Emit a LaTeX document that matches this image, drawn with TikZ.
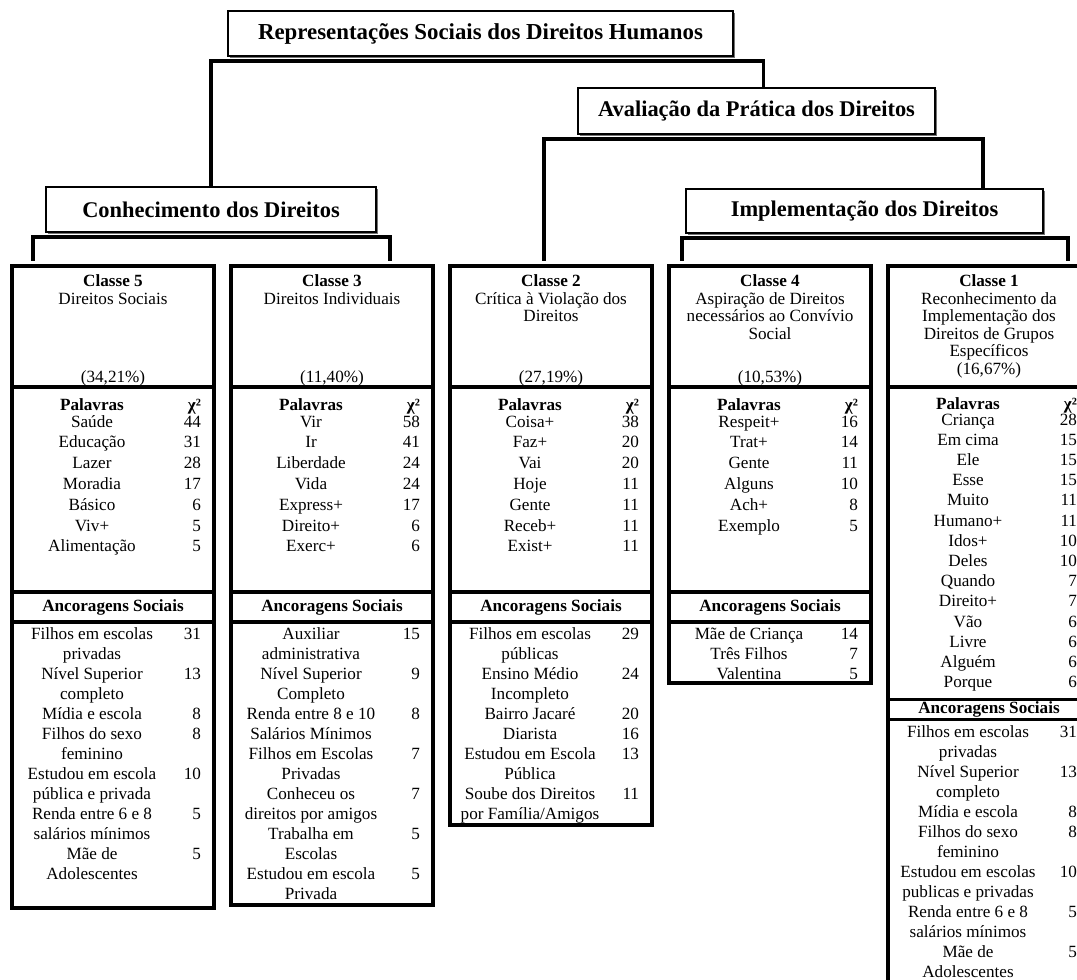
\documentclass[tikz,border=0pt]{standalone}
\usepackage{fontspec}
\setmainfont{Liberation Serif}
\usepackage{array}
\usetikzlibrary{positioning, calc, shadows}

% column types for the class tables
\newcolumntype{W}{>{\centering\arraybackslash}p{112pt}}
\newcolumntype{V}{>{\raggedleft\arraybackslash}p{20.3pt}}
\newcolumntype{H}{>{\centering\arraybackslash}p{141.4pt}}
\newcommand{\pairtab}[1]{\begin{tabular}[t]{@{}W@{}V@{\hspace{9.1pt}}}#1\end{tabular}}
\newcommand{\headtab}[1]{\begin{tabular}[t]{@{}H@{}}#1\end{tabular}}

\begin{document}
\begin{tikzpicture}[
    x=0.7pt, y=-0.7pt,
    font={\fontsize{12}{14}\selectfont},
    titlebox/.style={draw, line width=1pt, fill=white, anchor=north west, inner sep=0pt, outer sep=0pt,
        font={\fontsize{15.7}{18}\selectfont\bfseries},
        drop shadow={shadow xshift=1.2pt, shadow yshift=-1.2pt, fill=black!55, opacity=1}},
    sect/.style={draw, line width=2.3pt, anchor=north west, inner sep=0pt, outer sep=0pt, minimum width=141.4pt},
    clshead/.style={sect, text height=14.4pt, text depth=70.3pt,
        font={\fontsize{12}{14}\selectfont\renewcommand{\arraystretch}{0.875}}},
    palbox/.style={sect, text height=16.5pt, text depth=#1,
        font={\fontsize{12}{14}\selectfont\renewcommand{\arraystretch}{1.04}}},
    anchead/.style={sect, minimum height=#1, font={\fontsize{12}{14}\selectfont\bfseries}},
    anclist/.style={sect, text height=12.3pt, text depth=#1},
    pct/.style={anchor=base},
    link/.style={line width=2.3pt}
]
    \useasboundingbox (0,0) rectangle (1077,980);
    \clip (0,0) rectangle (1077,980);

    % Titles
    \node[titlebox, minimum width=353.5pt, minimum height=31.5pt,
          font={\fontsize{16}{18}\selectfont\bfseries}] (rep) at (228,11) {Representações Sociais dos Direitos Humanos};
    \node[titlebox, minimum width=249.9pt, minimum height=32.2pt] (aval) at (578,88) {Avaliação da Prática dos Direitos};
    \node[titlebox, minimum width=231pt, minimum height=31.5pt] (conh) at (46,187) {Conhecimento dos Direitos};
    \node[titlebox, minimum width=249.9pt, minimum height=30.8pt] (impl) at (686,189) {Implementação dos Direitos};

    % Classe 5
    \node[clshead] (cls5) at (12,266) {\headtab{\textbf{Classe 5}\\ Direitos Sociais}};
    \node[pct] (pct5) at ($(cls5.south)+(0,-5)$) {(34,21\%)};
    \node[palbox=127pt] (pal5) at (cls5.south west) {\pairtab{\textbf{Palavras} & \textbf{χ²}\\[-3pt]
        Saúde & 44\\ Educação & 31\\ Lazer & 28\\ Moradia & 17\\ Básico & 6\\ Viv+ & 5\\ Alimentação & 5}};
    \node[anchead=21pt] (anc5) at (pal5.south west) {Ancoragens Sociais};
    \node[anclist=187.9pt] (lst5) at (anc5.south west) {\pairtab{
        Filhos em escolas & 31\\ privadas & \\ Nível Superior & 13\\ completo & \\
        Mídia e escola & 8\\ Filhos do sexo & 8\\ feminino & \\ Estudou em escola & 10\\
        pública e privada & \\ Renda entre 6 e 8 & 5\\ salários mínimos & \\ Mãe de & 5\\ Adolescentes & }};

    % Classe 3
    \node[clshead] (cls3) at (231,266) {\headtab{\textbf{Classe 3}\\ Direitos Individuais}};
    \node[pct] (pct3) at ($(cls3.south)+(0,-5)$) {(11,40\%)};
    \node[palbox=127pt] (pal3) at (cls3.south west) {\pairtab{\textbf{Palavras} & \textbf{χ²}\\[-3pt]
        Vir & 58\\ Ir & 41\\ Liberdade & 24\\ Vida & 24\\ Express+ & 17\\ Direito+ & 6\\ Exerc+ & 6}};
    \node[anchead=21pt] (anc3) at (pal3.south west) {Ancoragens Sociais};
    \node[anclist=185.8pt] (lst3) at (anc3.south west) {\pairtab{
        Auxiliar & 15\\ administrativa & \\ Nível Superior & 9\\ Completo & \\
        Renda entre 8 e 10 & 8\\ Salários Mínimos & \\ Filhos em Escolas & 7\\ Privadas & \\
        Conheceu os & 7\\ direitos por amigos & \\ Trabalha em & 5\\ Escolas & \\
        Estudou em escola & 5\\ Privada & }};

    % Classe 2
    \node[clshead] (cls2) at (450,266) {\headtab{\textbf{Classe 2}\\ Crítica à Violação dos\\ Direitos}};
    \node[pct] (pct2) at ($(cls2.south)+(0,-5)$) {(27,19\%)};
    \node[palbox=127pt] (pal2) at (cls2.south west) {\pairtab{\textbf{Palavras} & \textbf{χ²}\\[-3pt]
        Coisa+ & 38\\ Faz+ & 20\\ Vai & 20\\ Hoje & 11\\ Gente & 11\\ Receb+ & 11\\ Exist+ & 11}};
    \node[anchead=21pt] (anc2) at (pal2.south west) {Ancoragens Sociais};
    \node[anclist=129.8pt] (lst2) at (anc2.south west) {\pairtab{
        Filhos em escolas & 29\\ públicas & \\ Ensino Médio & 24\\ Incompleto & \\
        Bairro Jacaré & 20\\ Diarista & 16\\ Estudou em Escola & 13\\ Pública & \\
        Soube dos Direitos & 11\\ por Família/Amigos & }};

    % Classe 4
    \node[clshead] (cls4) at (669,266) {\headtab{\textbf{Classe 4}\\ Aspiração de Direitos\\ necessários ao Convívio\\ Social}};
    \node[pct] (pct4) at ($(cls4.south)+(0,-5)$) {(10,53\%)};
    \node[palbox=127pt] (pal4) at (cls4.south west) {\pairtab{\textbf{Palavras} & \textbf{χ²}\\[-3pt]
        Respeit+ & 16\\ Trat+ & 14\\ Gente & 11\\ Alguns & 10\\ Ach+ & 8\\ Exemplo & 5}};
    \node[anchead=21pt] (anc4) at (pal4.south west) {Ancoragens Sociais};
    \node[anclist=30.4pt] (lst4) at (anc4.south west) {\pairtab{
        Mãe de Criança & 14\\ Três Filhos & 7\\ Valentina & 5}};

    % Classe 1
    \node[clshead] (cls1) at (888,266) {\headtab{\textbf{Classe 1}\\ Reconhecimento da\\ Implementação dos\\ Direitos de Grupos\\ Específicos}};
    \node[pct] (pct1) at ($(cls1.south)+(0,-12)$) {(16,67\%)};
    \node[palbox=203.2pt, text height=15.5pt,
          font={\fontsize{12}{14}\selectfont\renewcommand{\arraystretch}{1.01}}] (pal1) at (cls1.south west) {\pairtab{\textbf{Palavras} & \textbf{χ²}\\[-3pt]
        Criança & 28\\ Em cima & 15\\ Ele & 15\\ Esse & 15\\ Muito & 11\\ Humano+ & 11\\ Idos+ & 10\\
        Deles & 10\\ Quando & 7\\ Direito+ & 7\\ Vão & 6\\ Livre & 6\\ Alguém & 6\\ Porque & 6}};
    \node[anchead=14pt] (anc1) at (pal1.south west) {Ancoragens Sociais};
    \node[anclist=178.1pt] (lst1) at (anc1.south west) {\pairtab{
        Filhos em escolas & 31\\ privadas & \\ Nível Superior & 13\\ completo & \\
        Mídia e escola & 8\\ Filhos do sexo & 8\\ feminino & \\ Estudou em escolas & 10\\
        publicas e privadas & \\ Renda entre 6 e 8 & 5\\ salários mínimos & \\ Mãe de & 5\\ Adolescentes & }};

    % Brackets
    \coordinate (barA) at (0,61);
    \coordinate (barB) at (0,139);
    \coordinate (barC) at (0,237);
    \coordinate (barD) at (0,238);
    \coordinate (kA2) at ($(aval.north)+(7,0)$);
    \coordinate (kB1) at ($(cls2.north)+(-7,0)$);
    \coordinate (kB2) at ($(impl.north east)+(-60,0)$);
    \coordinate (kC1) at ($(cls5.north west)+(21,0)$);
    \coordinate (kC2) at ($(cls3.north east)+(-43,0)$);
    \coordinate (kD1) at ($(cls4.north west)+(13,0)$);
    \coordinate (kD2) at ($(cls1.north west)+(180,0)$);

    \draw[link] (conh.north) -- (conh.north |- barA) -| (kA2);
    \draw[link, shorten <=3.5pt] (kB1) -- (kB1 |- barB) -| (kB2);
    \draw[link, shorten <=3.5pt, shorten >=3.5pt] (kC1) -- (kC1 |- barC) -| (kC2);
    \draw[link, shorten <=3.5pt, shorten >=3.5pt] (kD1) -- (kD1 |- barD) -| (kD2);
\end{tikzpicture}
\end{document}
